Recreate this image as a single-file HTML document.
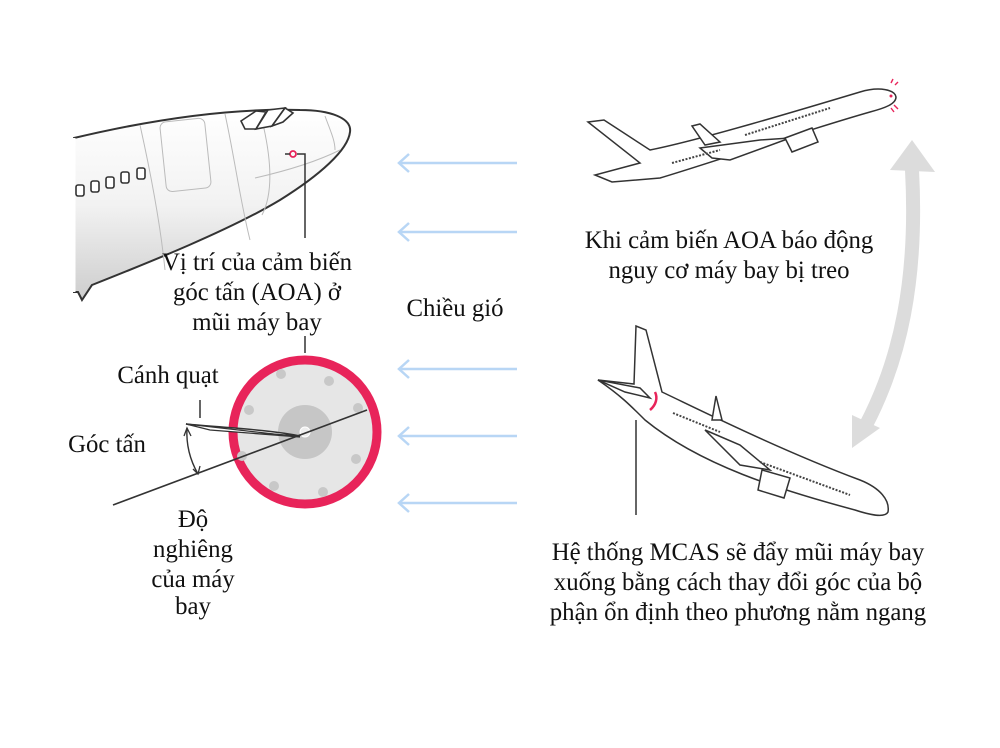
<!DOCTYPE html>
<html><head><meta charset="utf-8"><style>
html,body{margin:0;padding:0;background:#fff;}
svg{display:block}
text{font-family:"Liberation Serif",serif;font-size:24.8px;fill:#111;}
</style></head><body>
<svg width="1000" height="748" viewBox="0 0 1000 748" xmlns="http://www.w3.org/2000/svg">
<defs>
<linearGradient id="body" x1="0" y1="0" x2="0" y2="1">
<stop offset="0" stop-color="#ffffff"/><stop offset="0.5" stop-color="#f2f2f2"/><stop offset="1" stop-color="#cdcdcd"/>
</linearGradient>
</defs>
<rect width="1000" height="748" fill="#fff"/>

<!-- top-left nose -->
<path d="M74,138 C150,120 230,108 300,110 C330,110 352,118 350,132 C348,150 320,175 280,200 C230,230 150,262 92,285 L82,300 L78,292 L74,292 Z" fill="url(#body)" stroke="#333" stroke-width="2"/>
<path d="M74,292 L74,138" stroke="#fff" stroke-width="3"/>
<g fill="none" stroke="#bbb" stroke-width="1">
<path d="M140,125 C150,170 160,220 165,270"/><path d="M225,114 C235,160 240,200 250,240"/>
<path d="M260,112 C270,150 275,190 262,215"/><path d="M325,116 C330,130 335,140 335,150"/>
<path d="M255,178 C290,170 320,160 340,150"/>
<rect x="163" y="120" width="45" height="70" rx="6" transform="rotate(-6 185 155)"/>
</g>
<g fill="#fff" stroke="#333" stroke-width="1.6">
<path d="M241,121 L256,111 L266,112 L256,129 L245,129 Z"/>
<path d="M256,129 L268,110 L285,108 L272,126 Z"/>
<path d="M272,126 L285,108 L293,113 L283,122 Z"/>
<rect x="76" y="185" width="8" height="11" rx="2"/><rect x="91" y="181" width="8" height="11" rx="2"/>
<rect x="106" y="177" width="8" height="11" rx="2"/><rect x="121" y="172" width="8" height="11" rx="2"/>
<rect x="137" y="168" width="8" height="11" rx="2"/>
</g>
<circle cx="293" cy="154" r="3" fill="none" stroke="#e8245a" stroke-width="1.8"/>
<line x1="285" y1="154" x2="290" y2="154" stroke="#333" stroke-width="1.5"/>
<polyline points="297,154 305,154 305,238" fill="none" stroke="#333" stroke-width="1.5"/>

<!-- labels -->
<text x="257" y="270" text-anchor="middle">Vị trí của cảm biến</text>
<text x="257" y="300" text-anchor="middle">góc tấn (AOA) ở</text>
<text x="257" y="330" text-anchor="middle">mũi máy bay</text>
<line x1="305" y1="336" x2="305" y2="353" stroke="#333" stroke-width="1.5"/>

<!-- wind arrows -->
<g stroke="#b8d6f5" stroke-width="2.5" fill="none">
<line x1="400" y1="163" x2="517" y2="163"/><polyline points="409,154 399,163 409,172"/>
<line x1="400" y1="232" x2="517" y2="232"/><polyline points="409,223 399,232 409,241"/>
<line x1="400" y1="369" x2="517" y2="369"/><polyline points="409,360 399,369 409,378"/>
<line x1="400" y1="436" x2="517" y2="436"/><polyline points="409,427 399,436 409,445"/>
<line x1="400" y1="503" x2="517" y2="503"/><polyline points="409,494 399,503 409,512"/>
</g>
<text x="455" y="316" text-anchor="middle">Chiều gió</text>

<!-- circle -->
<circle cx="305" cy="432" r="72" fill="#e6e6e6" stroke="#e8245a" stroke-width="9"/>
<circle cx="305" cy="432" r="27" fill="#c6c6c6"/>
<circle cx="305" cy="432" r="5" fill="#eee" stroke="#fff" stroke-width="1"/>
<g fill="#c8c8c8">
<circle cx="281" cy="374" r="5"/><circle cx="329" cy="381" r="5"/><circle cx="249" cy="410" r="5"/>
<circle cx="358" cy="408" r="5"/><circle cx="356" cy="459" r="5"/><circle cx="274" cy="486" r="5"/>
<circle cx="323" cy="492" r="5"/><circle cx="242" cy="456" r="5"/>
</g>
<line x1="113" y1="505" x2="367" y2="410" stroke="#333" stroke-width="1.6"/>
<path d="M186,424 C230,428 270,430 300,436 C270,434 230,432 186,424 Z" fill="#fff" stroke="#333" stroke-width="1.5"/>
<path d="M186,424 L300,437 L210,430 Z" fill="#fff" stroke="#333" stroke-width="1.3"/>
<line x1="200" y1="400" x2="200" y2="418" stroke="#333" stroke-width="1.5"/>
<path d="M187,428 C186,445 190,460 198,474" fill="none" stroke="#333" stroke-width="1.4"/>
<polyline points="184,436 187,428 191,436" fill="none" stroke="#333" stroke-width="1.3"/>
<polyline points="193,469 198,474 200,466" fill="none" stroke="#333" stroke-width="1.3"/>
<text x="168" y="383" text-anchor="middle">Cánh quạt</text>
<text x="107" y="452" text-anchor="middle">Góc tấn</text>
<text x="193" y="527" text-anchor="middle">Độ</text>
<text x="193" y="557" text-anchor="middle">nghiêng</text>
<text x="193" y="587" text-anchor="middle">của máy</text>
<text x="193" y="614" text-anchor="middle">bay</text>

<!-- top right plane -->
<g stroke="#333" stroke-width="1.5" fill="#fff">
<path d="M588,122 L604,120 L650,150 C700,140 800,110 860,92 C880,86 895,90 896,97 C896,104 885,108 870,112 C800,132 720,160 660,178 L612,182 L595,175 L640,163 Z"/>
<path d="M692,126 L700,124 L720,142 L705,145 Z"/>
<path d="M700,148 L760,140 L790,138 L730,160 L712,158 Z"/>
<path d="M785,138 L812,128 L818,142 L792,152 Z"/>
</g>
<g stroke="#444" stroke-width="2" stroke-dasharray="2,1.5">
<line x1="672" y1="163" x2="720" y2="150"/><line x1="745" y1="135" x2="830" y2="108"/>
</g>
<g stroke="#e8245a" stroke-width="1.4">
<line x1="891" y1="83" x2="893" y2="79"/><line x1="895" y1="85" x2="898" y2="82"/>
<line x1="894" y1="105" x2="898" y2="109"/><line x1="891" y1="108" x2="894" y2="112"/>
</g>
<circle cx="891" cy="96" r="1.5" fill="#e8245a"/>
<text x="729" y="248" text-anchor="middle">Khi cảm biến AOA báo động</text>
<text x="729" y="278" text-anchor="middle">nguy cơ máy bay bị treo</text>

<!-- gray double arrow -->
<path d="M912,170 C918,280 900,360 866,425" fill="none" stroke="#dcdcdc" stroke-width="14"/>
<polygon points="912,140 935,172 890,170" fill="#dcdcdc"/>
<polygon points="852,448 852,415 880,428" fill="#dcdcdc"/>

<!-- bottom plane -->
<g stroke="#333" stroke-width="1.5" fill="#fff">
<path d="M598,380 L634,384 L636,326 L646,330 L662,392 C700,410 780,450 860,480 C880,488 890,500 888,512 C885,518 870,515 855,510 C780,490 700,465 645,420 C630,405 620,395 598,380 Z"/>
<path d="M598,380 L640,388 L650,398 L625,392 Z"/>
<path d="M712,420 L716,396 L722,420 Z"/>
<path d="M705,430 L740,445 L770,470 L740,465 Z"/>
<path d="M762,470 L790,478 L784,498 L758,490 Z"/>
</g>
<g stroke="#444" stroke-width="2" stroke-dasharray="2,1.5">
<line x1="673" y1="413" x2="720" y2="432"/><line x1="760" y1="462" x2="850" y2="495"/>
</g>
<path d="M650,410 C656,405 658,398 655,392" fill="none" stroke="#e8245a" stroke-width="2.5"/>
<line x1="636" y1="420" x2="636" y2="515" stroke="#333" stroke-width="1.5"/>

<text x="738" y="560" text-anchor="middle">Hệ thống MCAS sẽ đẩy mũi máy bay</text>
<text x="738" y="590" text-anchor="middle">xuống bằng cách thay đổi góc của bộ</text>
<text x="738" y="620" text-anchor="middle">phận ổn định theo phương nằm ngang</text>
</svg>
</body></html>
